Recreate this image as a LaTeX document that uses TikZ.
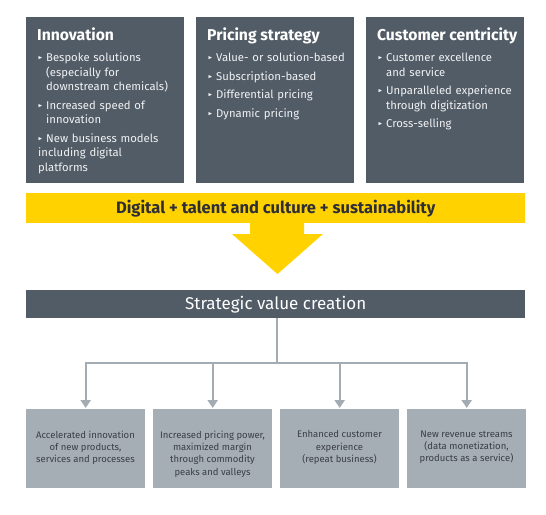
\documentclass[tikz,border=0pt]{standalone}
\usepackage{fontspec}
\setmainfont{Fira Sans}
\usepackage{amssymb}
\usepackage{graphicx}
\usetikzlibrary{arrows.meta}
\definecolor{darkbox}{HTML}{525C67}
\definecolor{lightbox}{HTML}{A5ADB5}
\definecolor{linegray}{HTML}{A3ABB3}
\definecolor{eyyellow}{HTML}{FFD200}
\definecolor{darktext}{HTML}{2E2E38}
\definecolor{bottext}{HTML}{3A3F46}
\newcommand\itm[1]{\par\noindent\hangindent=8pt\hangafter=1\makebox[8pt][l]{\raisebox{0.3ex}{\scalebox{0.5}{$\blacktriangleright$}}}#1}
\begin{document}
\begin{tikzpicture}[x=1pt,y=-1pt,
  topbox/.style={fill=darkbox, draw=none, minimum width=158, minimum height=166, anchor=north west, inner sep=0},
  ttl/.style={text=white, font=\fontsize{15.7}{18}\selectfont\bfseries, anchor=base west, inner sep=0},
  lst/.style={text=white!92!darkbox, font=\fontsize{11.3}{14.5}\selectfont\setlength\parskip{4pt}, text width=150, align=left, anchor=north west, inner sep=0},
  botbox/.style={fill=lightbox, draw=none, minimum width=119, minimum height=79, anchor=north west, inner sep=0},
  bt/.style={text=bottext, font=\fontsize{9.5}{12.3}\selectfont, align=center, anchor=north, inner sep=0},
  conn/.style={draw=linegray, line width=2pt},
  arr/.style={conn, -{Triangle[width=10pt,length=8pt]}, shorten >=1pt}
]
\useasboundingbox (0,0) rectangle (546,514);
\fill[white] (0,0) rectangle (546,514);

% top boxes
\node[topbox] (b1) at (26,17) {};
\node[topbox] (b2) at (196,17) {};
\node[topbox] (b3) at (366,17) {};

\node[ttl] (t1) at (37,40.5) {Innovation};
\node[ttl] (t2) at (207,40.5) {Pricing strategy};
\node[ttl] (t3) at (377,40.5) {Customer centricity};

\node[lst] (l1) at (38,43) {\itm{Bespoke solutions\newline (especially for\newline downstream chemicals)}\itm{Increased speed of\newline innovation}\itm{New business models\newline including digital\newline platforms}};
\node[lst] (l2) at (208,43) {\itm{Value- or solution-based}\itm{Subscription-based}\itm{Differential pricing}\itm{Dynamic pricing}};
\node[lst] (l3) at (378,43) {\itm{Customer excellence\newline and service}\itm{Unparalleled experience\newline through digitization}\itm{Cross-selling}};

% yellow band and arrow
\node[fill=eyyellow, minimum width=499, minimum height=30, anchor=north west, inner sep=0] (band) at (26,193) {};
\node[text=darktext, font=\fontsize{16.5}{18}\selectfont\bfseries, inner sep=0] (bandtext) at (band.center) {Digital + talent and culture + sustainability};
\fill[eyyellow] (250,222) -- (304,222) -- (304,234) -- (323,234) -- (277.5,274) -- (232,234) -- (250,234) -- cycle;

% strategic value creation
\node[fill=darkbox, minimum width=499, minimum height=28, anchor=north west, inner sep=0] (svc) at (26,290) {};
\node[text=white, font=\fontsize{17}{19}\selectfont, inner sep=0] (svctext) at (svc.center) {Strategic value creation};

% bottom boxes
\node[botbox] (c1) at (26,409) {};
\node[botbox] (c2) at (153,409) {};
\node[botbox] (c3) at (280,409) {};
\node[botbox] (c4) at (407,409) {};

\node[bt] (d1) at (85.5,430.5) {Accelerated innovation\\of new products,\\services and processes};
\node[bt] (d2) at (212.5,430.5) {Increased pricing power,\\maximized margin\\through commodity\\peaks and valleys};
\node[bt] (d3) at (339.5,430.5) {Enhanced customer\\experience\\(repeat business)};
\node[bt] (d4) at (466.5,430.5) {New revenue streams\\(data monetization,\\products as a service)};

% connectors
\coordinate (j) at (277,363);
\draw[conn] (277,318) -- (j);
\draw[arr] (j) -| (c1.north);
\draw[arr] (j) -| (c2.north);
\draw[arr] (j) -| (c3.north);
\draw[arr] (j) -| (c4.north);
\end{tikzpicture}
\end{document}
